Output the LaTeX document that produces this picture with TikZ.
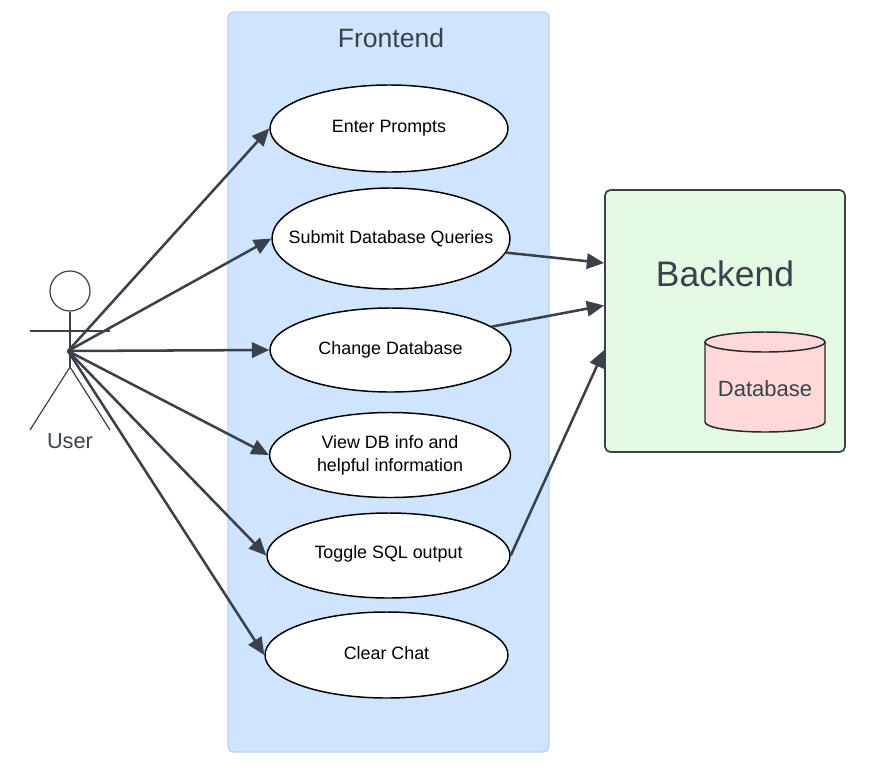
\documentclass[tikz,border=0pt]{standalone}
\usepackage{fontspec}
\setmainfont{Liberation Sans}
\usetikzlibrary{arrows.meta,shapes.geometric,calc}
\definecolor{linegray}{HTML}{3A414A}
\definecolor{frontblue}{HTML}{CFE4FF}
\definecolor{frontedge}{HTML}{B5D4F9}
\definecolor{backgreen}{HTML}{E3FAE3}
\definecolor{dbred}{HTML}{FFD9D9}

\begin{document}
\begin{tikzpicture}[x=0.75pt,y=-0.75pt]
\tikzstyle{usecase} = [draw=black,fill=white,ellipse,line width=1.1pt,inner sep=0pt,align=center,font=\fontsize{13.4}{17.2}\selectfont]
\tikzstyle{flow} = [draw=linegray,line width=1.9pt,-{Triangle[length=13pt,width=11.5pt]}]
\tikzstyle{stick} = [draw=linegray,line width=0.9pt]
\tikzstyle{dbshape} = [draw=black!85,fill=dbred,line width=1.1pt]
\useasboundingbox (0,0) rectangle (885,779);
\node(front)[draw=frontedge,fill=frontblue,rounded corners=4pt,line width=1pt,minimum width=240.75pt,minimum height=555pt] at (388.5,382){};
\node(frontlabel)[text=linegray,font=\fontsize{19.9}{24}\selectfont] at (391,38){Frontend};
\node(back)[draw=linegray,fill=backgreen,rounded corners=4pt,line width=1.3pt,minimum width=180pt,minimum height=196.5pt] at (725,321){};
\node(backlabel)[text=linegray,font=\fontsize{26.6}{32}\selectfont] at (725,274){Backend};
% database drum
\draw[dbshape](705,342)--(705,422) arc[start angle=180,end angle=0,x radius=60,y radius=10]--(825,342);
\draw[dbshape](765,342) ellipse[x radius=60,y radius=10];
\node(dblabel)[text=linegray,font=\fontsize{16.5}{20}\selectfont] at (765,389){Database};
\node(prompts)[usecase,minimum width=178.5pt,minimum height=65.25pt] at (389,128.5){Enter Prompts};
\node(submit)[usecase,minimum width=178.5pt,minimum height=75.75pt,text depth=2pt] at (391,238.5){\makebox[0pt]{Submit Database Queries}};
\node(change)[usecase,minimum width=180.75pt,minimum height=63pt] at (390.5,350){Change Database};
\node(view)[usecase,minimum width=180.75pt,minimum height=63.75pt] at (390,455){View DB info and\\helpful information};
\node(toggle)[usecase,minimum width=182.25pt,minimum height=63.75pt,text depth=5.5pt] at (388.5,555.5){Toggle SQL output};
\node(clear)[usecase,minimum width=182.25pt,minimum height=64.5pt,text depth=3pt] at (386.5,655){Clear Chat};
% stick figure
\node(head)[circle,stick,minimum size=30pt,inner sep=0pt] at (70,291){};
\coordinate(hip) at (70,367);
\coordinate(hub) at (68,351);
\coordinate(handl) at (30,331);
\coordinate(handr) at (110,331);
\coordinate(footl) at (30,430);
\coordinate(footr) at (110,430);
\draw[stick](head.south)--(hip);
\draw[stick](handl)--(handr);
\draw[stick](footl)--(hip)--(footr);
\node(user)[text=linegray,font=\fontsize{16.3}{20}\selectfont] at (70,441){User};
\draw[flow](hub)--(prompts.west);
\draw[flow](hub)--(submit.west);
\draw[flow](hub)--(change.west);
\draw[flow](hub)--(view.west);
\draw[flow](hub)--(toggle.west);
\draw[flow](hub)--(clear.west);
\draw[flow](submit.-7)--($(back.north west)!0.28!(back.south west)$);
\draw[flow](change.13)--($(back.north west)!0.441!(back.south west)$);
\draw[flow](toggle.east)--($(back.north west)!0.61!(back.south west)$);
\end{tikzpicture}
\end{document}
